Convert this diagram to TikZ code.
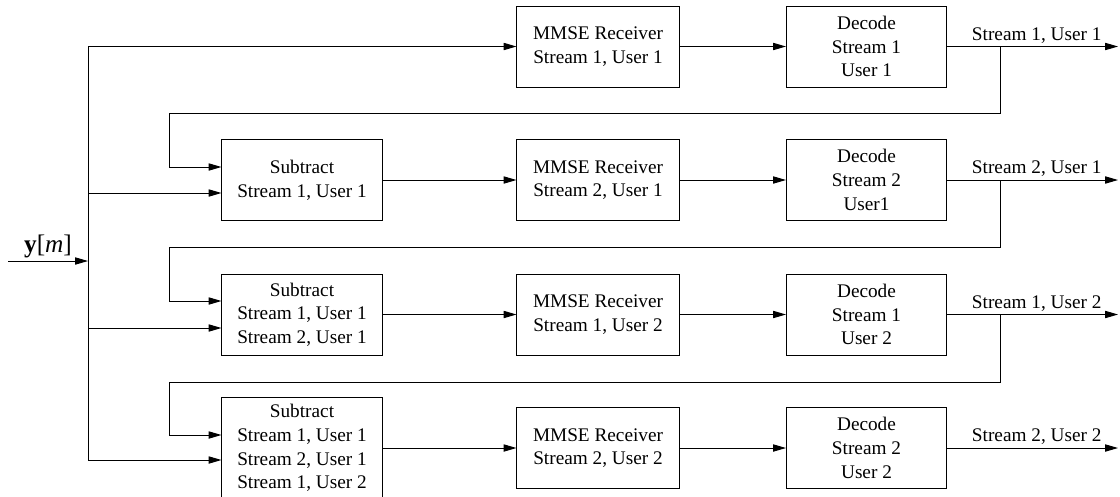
\documentclass[tikz,border=0pt]{standalone}
\usepackage{fontspec}
\setmainfont{Liberation Serif}
\usetikzlibrary{arrows.meta}
\begin{document}
\begin{tikzpicture}[x=0.025cm,y=-0.025cm,
  every node/.style={font=\fontsize{13.7}{16.8}\selectfont},
  blk/.style={draw,line width=0.7pt,align=center,minimum width=4cm,minimum height=2.025cm,inner sep=0pt},
  ln/.style={line width=0.7pt},
  arr/.style={line width=0.7pt,-{Triangle[length=3.2mm,width=1.8mm]}}]
\clip (0,0) rectangle (1120,496);
% row 1
\node[blk,minimum width=4.05cm] (m1) at (598,46.5) {MMSE Receiver\\Stream 1, User 1};
\node[blk] (d1) at (866.5,46.5) {Decode\\Stream 1\\User 1};
% row 2
\node[blk] (s1) at (302,180) {Subtract\\Stream 1, User 1};
\node[blk,minimum width=4.05cm] (m2) at (598,180) {MMSE Receiver\\Stream 2, User 1};
\node[blk] (d2) at (866.5,180) {Decode\\Stream 2\\User1};
% row 3
\node[blk] (s2) at (302,314.5) {Subtract\\Stream 1, User 1\\Stream 2, User 1};
\node[blk,minimum width=4.05cm] (m3) at (598,314.5) {MMSE Receiver\\Stream 1, User 2};
\node[blk] (d3) at (866.5,314.5) {Decode\\Stream 1\\User 2};
% row 4
\node[blk,minimum height=2.55cm] (s3) at (302,448) {Subtract\\Stream 1, User 1\\Stream 2, User 1\\Stream 1, User 2};
\node[blk,minimum width=4.05cm] (m4) at (598,448) {MMSE Receiver\\Stream 2, User 2};
\node[blk] (d4) at (866.5,448) {Decode\\Stream 2\\User 2};
% input
\coordinate (in) at (8,261);
\coordinate (bj) at (88,261);
\coordinate (bt) at (88,46.5);
\coordinate (bb) at (88,460);
\draw[arr] (in) -- node[above=1pt,inner sep=1pt,font=\fontsize{18}{20}\selectfont] {\textbf{y}[\textit{m}]} (bj);
\draw[ln] (bt) -- (bb);
\draw[arr] (bt) -- (m1.west);
\draw[arr] (88,193) -- (s1.west |- 0,193);
\draw[arr] (88,328) -- (s2.west |- 0,328);
\draw[arr] (bb) -- (s3.west |- bb);
% chain
\foreach \a/\b in {m1/d1,s1/m2,m2/d2,s2/m3,m3/d3,s3/m4,m4/d4}
  \draw[arr] (\a) -- (\b);
% outputs
\coordinate (o1) at (1118,46.5);
\coordinate (o2) at (1118,180);
\coordinate (o3) at (1118,314.5);
\coordinate (o4) at (1118,448);
\draw[arr] (d1.east) -- node[above,inner sep=2pt,xshift=3pt] {Stream 1, User 1} (o1);
\draw[arr] (d2.east) -- node[above,inner sep=2pt,xshift=3pt] {Stream 2, User 1} (o2);
\draw[arr] (d3.east) -- node[above,inner sep=2pt,xshift=3pt] {Stream 1, User 2} (o3);
\draw[arr] (d4.east) -- node[above,inner sep=2pt,xshift=3pt] {Stream 2, User 2} (o4);
% feedback
\draw[arr] (1000,46.5) -- (1000,113) -- (169,113) -- (169,167) -- (s1.west |- 0,167);
\draw[arr] (1000,180) -- (1000,247) -- (169,247) -- (169,301) -- (s2.west |- 0,301);
\draw[arr] (1000,314.5) -- (1000,382) -- (169,382) -- (169,435) -- (s3.west |- 0,435);
\end{tikzpicture}
\end{document}
